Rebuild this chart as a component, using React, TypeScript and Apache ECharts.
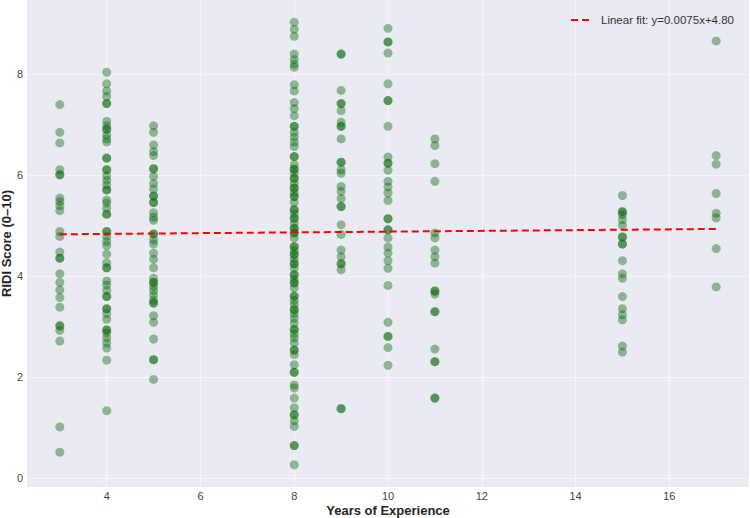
import React, { useEffect, useRef } from "react";
import * as echarts from "echarts";

const years = [3, 4, 5, 8, 9, 10, 11, 15, 17];

const scores3 = [7.39, 6.84, 6.63, 6.1, 6.0, 6.0, 5.54, 5.47, 5.39, 5.29, 4.88, 4.78, 4.47, 4.35, 4.35, 4.04, 3.87, 3.72, 3.57, 3.38, 3.02, 3.0, 2.92, 2.71, 1.01, 0.51];
const scores4 = [8.03, 7.8, 7.66, 7.55, 7.41, 7.41, 7.06, 6.97, 6.9, 6.9, 6.79, 6.71, 6.65, 6.33, 6.33, 6.1, 6.1, 5.98, 5.89, 5.8, 5.7, 5.7, 5.5, 5.44, 5.34, 5.22, 5.22, 4.88, 4.88, 4.78, 4.68, 4.6, 4.43, 4.26, 4.16, 4.16, 3.9, 3.82, 3.71, 3.59, 3.59, 3.35, 3.35, 3.25, 3.14, 2.93, 2.93, 2.87, 2.77, 2.67, 2.57, 2.33, 1.33];
const scores5 = [6.97, 6.84, 6.59, 6.46, 6.38, 6.12, 6.12, 5.97, 5.83, 5.72, 5.58, 5.58, 5.45, 5.45, 5.25, 5.16, 5.1, 4.83, 4.83, 4.71, 4.63, 4.45, 4.33, 4.16, 3.95, 3.87, 3.87, 3.79, 3.71, 3.62, 3.52, 3.46, 3.46, 3.21, 3.08, 2.75, 2.34, 2.34, 1.95];
const scores8 = [9.02, 8.88, 8.74, 8.39, 8.28, 8.19, 8.13, 7.78, 7.66, 7.43, 7.31, 7.17, 6.96, 6.96, 6.84, 6.75, 6.65, 6.56, 6.36, 6.36, 6.2, 6.11, 6.11, 6.03, 5.93, 5.93, 5.83, 5.74, 5.74, 5.65, 5.57, 5.57, 5.45, 5.31, 5.31, 5.23, 5.14, 5.14, 5.04, 4.94, 4.94, 4.85, 4.85, 4.75, 4.58, 4.58, 4.5, 4.42, 4.42, 4.33, 4.24, 4.24, 4.15, 4.02, 4.02, 3.93, 3.86, 3.86, 3.76, 3.6, 3.6, 3.51, 3.43, 3.33, 3.33, 3.25, 3.16, 3.06, 2.94, 2.94, 2.85, 2.77, 2.67, 2.53, 2.53, 2.44, 2.24, 2.09, 2.09, 1.84, 1.78, 1.58, 1.39, 1.25, 1.25, 1.13, 1.02, 0.64, 0.64, 0.26];
const scores9 = [8.39, 8.39, 7.67, 7.41, 7.41, 7.27, 7.04, 6.96, 6.96, 6.71, 6.25, 6.25, 6.1, 6.03, 5.77, 5.67, 5.53, 5.37, 5.37, 5.01, 4.82, 4.51, 4.38, 4.24, 4.24, 4.12, 1.37, 1.37];
const scores10 = [8.9, 8.63, 8.63, 8.41, 7.8, 7.47, 7.47, 6.96, 6.35, 6.23, 6.23, 6.09, 5.87, 5.76, 5.64, 5.49, 5.13, 5.13, 4.91, 4.91, 4.75, 4.57, 4.45, 4.3, 4.15, 3.81, 3.08, 2.8, 2.8, 2.58, 2.23];
const scores11 = [6.71, 6.58, 6.22, 5.87, 4.85, 4.75, 4.51, 4.38, 4.25, 3.7, 3.7, 3.64, 3.29, 3.29, 2.55, 2.3, 2.3, 1.58, 1.58];
const scores15 = [5.59, 5.27, 5.27, 5.21, 5.11, 5.0, 4.77, 4.77, 4.63, 4.63, 4.3, 4.04, 3.95, 3.59, 3.35, 3.23, 3.13, 2.61, 2.49];
const scores17 = [8.65, 6.38, 6.21, 5.63, 5.24, 5.15, 4.54, 3.78];

const scoresByYear = [scores3, scores4, scores5, scores8, scores9, scores10, scores11, scores15, scores17];

const fitSlope = 0.0075;
const fitIntercept = 4.8;
const xTicks = [4, 6, 8, 10, 12, 14, 16];
const yTicks = [0, 2, 4, 6, 8];

const dashIcon = "path://M0,0 H7 V2 H0 Z M11,0 H18 V2 H11 Z M25,0 H25.01 V2 H25 Z";

export default function App() {
  const ref = useRef<HTMLDivElement>(null);
  useEffect(() => {
    if (!ref.current) return;
    const chart = echarts.init(ref.current, null, { renderer: "svg" });
    const points: number[][] = [];
    years.forEach((yr, i) => scoresByYear[i].forEach((s) => points.push([yr, s])));
    const xMin = Math.min(...years);
    const xMax = Math.max(...years);
    const fitLabel = `Linear fit: y=${fitSlope.toFixed(4)}x+${fitIntercept.toFixed(2)}`;
    const font = "Liberation Sans";
    const gridLine = { show: true, lineStyle: { color: "rgba(255,255,255,0.5)", width: 1 } };
    chart.setOption({
      animation: false,
      backgroundColor: "#ffffff",
      textStyle: { fontFamily: font },
      grid: {
        left: 27,
        right: 1,
        top: 0,
        bottom: 31,
        show: true,
        backgroundColor: "#EAEAF2",
        borderWidth: 0,
        containLabel: false,
        outerBoundsMode: "none",
      },
      legend: {
        data: [{ name: fitLabel, icon: dashIcon }],
        right: 11,
        top: 9,
        itemWidth: 25,
        itemHeight: 2,
        itemGap: 8,
        textStyle: { fontFamily: font, fontSize: 11.5, color: "#333333" },
      },
      xAxis: {
        type: "value",
        min: 2.3,
        max: 17.7,
        name: "Years of Experience",
        nameLocation: "middle",
        nameGap: 17,
        nameMoveOverlap: false,
        nameTextStyle: { fontFamily: font, fontSize: 13, fontWeight: "bold", color: "#262626" },
        axisLine: { show: false },
        axisTick: { show: false, customValues: xTicks },
        axisLabel: { customValues: xTicks, color: "#444444", fontSize: 11, margin: 3, fontFamily: font },
        splitLine: gridLine,
      },
      yAxis: {
        type: "value",
        min: -0.18,
        max: 9.46,
        name: "RIDI Score (0–10)",
        nameLocation: "middle",
        nameGap: 14,
        nameMoveOverlap: false,
        nameRotate: 90,
        nameTextStyle: { fontFamily: font, fontSize: 13, fontWeight: "bold", color: "#262626" },
        axisLine: { show: false },
        axisTick: { show: false, customValues: yTicks },
        axisLabel: { customValues: yTicks, color: "#444444", fontSize: 11, margin: 4, fontFamily: font },
        splitLine: gridLine,
      },
      series: [
        {
          type: "scatter",
          name: "data",
          data: points,
          symbolSize: 9,
          itemStyle: { color: "rgba(0,100,0,0.5)" },
          silent: true,
        },
        {
          type: "line",
          name: fitLabel,
          data: [
            [xMin, fitSlope * xMin + fitIntercept],
            [xMax, fitSlope * xMax + fitIntercept],
          ],
          showSymbol: false,
          symbol: "none",
          lineStyle: { color: "#ff0000", width: 2, type: [7, 4] },
          itemStyle: { color: "#ff0000" },
          z: 5,
        },
      ],
    });
    return () => chart.dispose();
  }, []);
  return <div ref={ref} style={{ width: 750, height: 518, position: "absolute", left: 0, top: 0 }} />;
}
